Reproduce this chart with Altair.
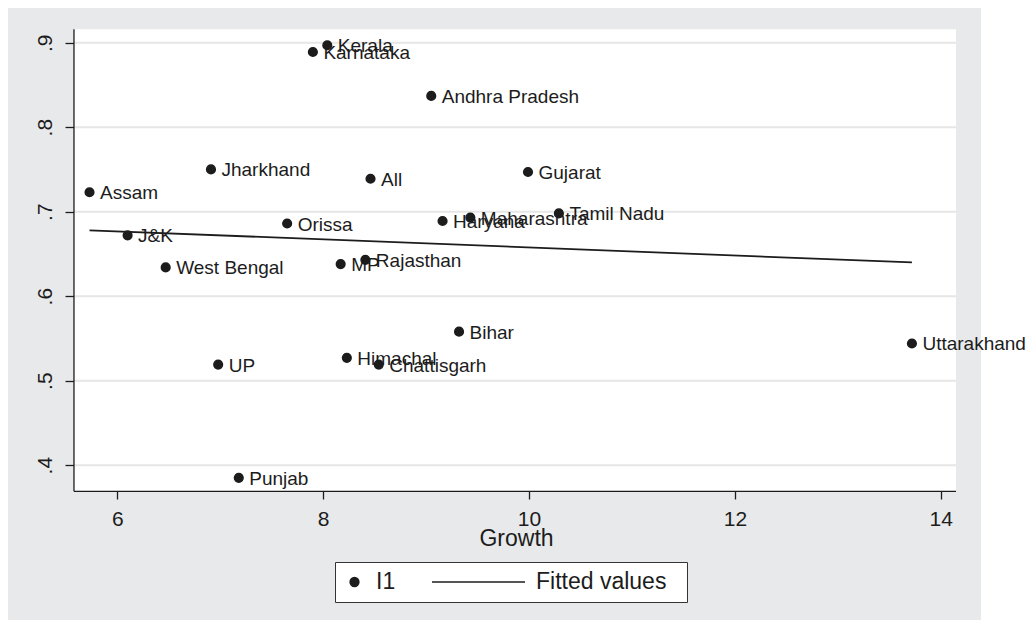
import altair as alt
import pandas as pd

# ---- data ----
states = ["Kerala", "Karnataka", "Andhra Pradesh", "Jharkhand", "Assam", "All",
          "Gujarat", "Orissa", "J&K", "Haryana", "Maharashtra", "Tamil Nadu",
          "West Bengal", "MP", "Rajasthan", "Bihar", "Himachal", "Chattisgarh",
          "UP", "Punjab", "Uttarakhand"]
growth = [8.04, 7.90, 9.05, 6.91, 5.73, 8.46,
          9.99, 7.65, 6.10, 9.16, 9.43, 10.29,
          6.47, 8.17, 8.41, 9.32, 8.23, 8.54,
          6.98, 7.18, 13.72]
i1 = [0.897, 0.889, 0.837, 0.750, 0.723, 0.739,
      0.747, 0.686, 0.672, 0.689, 0.693, 0.698,
      0.634, 0.638, 0.643, 0.558, 0.527, 0.519,
      0.519, 0.385, 0.544]

fit_growth = [5.73, 13.72]
fit_values = [0.678, 0.640]

series_names = ["I1", "Fitted values"]
x_ticks = [6, 8, 10, 12, 14]
y_ticks = [0.4, 0.5, 0.6, 0.7, 0.8, 0.9]

# plot region (white) and graph region (grey) limits, in data units
plot_x = [5.579, 14.148]
plot_y = [0.369, 0.916]
graph_x = [4.938, 14.391]
graph_y = [0.2167, 0.9411]

# ---- styling ----
FONT = "Liberation Sans"
INK = "#1c1c1c"
BG = "#e8e9eb"
GRID = "#e6e6e6"

pts = pd.DataFrame({"state": states, "growth": growth, "i1": i1, "series": "I1"})
fit = pd.DataFrame({"growth": fit_growth, "i1": fit_values})
grid_df = pd.DataFrame({"i1": y_ticks})
one = pd.DataFrame({"k": [0]})

xscale = alt.Scale(domain=graph_x, nice=False, zero=False)
yscale = alt.Scale(domain=graph_y, nice=False, zero=False)

xaxis = alt.Axis(title="Growth", values=x_ticks, format="d", grid=False, domain=False,
                 offset=-129, tickColor=INK, tickWidth=1.3,
                 tickSize=8, labelFont=FONT, labelFontSize=21, labelColor=INK,
                 labelPadding=9, labelFlush=False, labelOverlap=False,
                 titleFont=FONT, titleFontSize=23, titleColor=INK,
                 titleFontWeight="normal", titleBaseline="alphabetic",
                 titleAnchor="start", titleAlign="center", titleX=508, titleY=54.5)
yaxis = alt.Axis(title=None, values=y_ticks,
                 labelExpr="replace(format(datum.value, '.1f'), '0.', '.')",
                 grid=False, domain=False, offset=-66,
                 tickColor=INK, tickWidth=1.3,
                 tickSize=9, labelAngle=270, labelAlign="center",
                 labelBaseline="alphabetic", labelPadding=14,
                 labelFont=FONT, labelFontSize=21, labelColor=INK,
                 labelFlush=False, labelOverlap=False)

legend = alt.Legend(title=" ", titleOrient="right", titlePadding=13, titleFontSize=23,
                    titleFont=FONT, orient="none", legendX=327, legendY=554,
                    direction="horizontal", fillColor="white", strokeColor="#333333",
                    padding=8, clipHeight=24, labelFont=FONT, labelFontSize=23,
                    labelColor=INK, labelOffset=10, columnPadding=35,
                    symbolFillColor=INK, symbolStrokeWidth=1.6, symbolOpacity=1)

X = lambda f: alt.X(f, scale=xscale, axis=xaxis)
Y = lambda f: alt.Y(f, scale=yscale, axis=yaxis)

plot_area = alt.Chart(one).mark_rect(color="white", strokeWidth=0).encode(
    x=alt.X(datum=plot_x[0], scale=xscale, axis=xaxis),
    x2=alt.X2(datum=plot_x[1]),
    y=alt.Y(datum=plot_y[0], scale=yscale, axis=yaxis),
    y2=alt.Y2(datum=plot_y[1]),
)

grid = alt.Chart(grid_df).mark_rule(color=GRID, strokeWidth=2).encode(
    x=alt.X(datum=plot_x[0], scale=xscale, axis=xaxis),
    x2=alt.X2(datum=plot_x[1]),
    y=Y("i1:Q"),
)

y_line = alt.Chart(one).mark_rule(color=INK, strokeWidth=1.3).encode(
    x=alt.X(datum=plot_x[0], scale=xscale, axis=xaxis),
    y=alt.Y(datum=plot_y[0], scale=yscale, axis=yaxis),
    y2=alt.Y2(datum=plot_y[1]),
)
x_line = alt.Chart(one).mark_rule(color=INK, strokeWidth=1.3).encode(
    x=alt.X(datum=plot_x[0], scale=xscale, axis=xaxis),
    x2=alt.X2(datum=plot_x[1]),
    y=alt.Y(datum=plot_y[0], scale=yscale, axis=yaxis),
)

line = alt.Chart(fit).mark_line(color=INK, strokeWidth=1.8).encode(
    x=X("growth:Q"), y=Y("i1:Q"),
)

points = alt.Chart(pts).mark_point(filled=True, color=INK, stroke=INK,
                                   strokeWidth=1.5, opacity=1).encode(
    x=X("growth:Q"), y=Y("i1:Q"),
    shape=alt.Shape("series:N",
                    scale=alt.Scale(domain=series_names, range=["circle", "stroke"]),
                    legend=legend),
    size=alt.Size("series:N",
                  scale=alt.Scale(type="point", domain=series_names,
                                  range=[75, 8649], padding=0),
                  legend=legend),
)

labels = alt.Chart(pts).mark_text(align="left", baseline="middle", dx=10.5, dy=1,
                                  font=FONT, fontSize=19, color=INK).encode(
    x=X("growth:Q"), y=Y("i1:Q"), text="state:N",
)

chart = alt.layer(plot_area, grid, y_line, x_line, line, points, labels).properties(
    width=973, height=612, background="white",
    padding={"left": 0, "top": 0, "right": 47, "bottom": 0},
    autosize=alt.AutoSizeParams(type="none"),
).configure_view(stroke=None, fill=BG)

chart.save("out.html", embed_options={"renderer": "svg", "actions": False})
